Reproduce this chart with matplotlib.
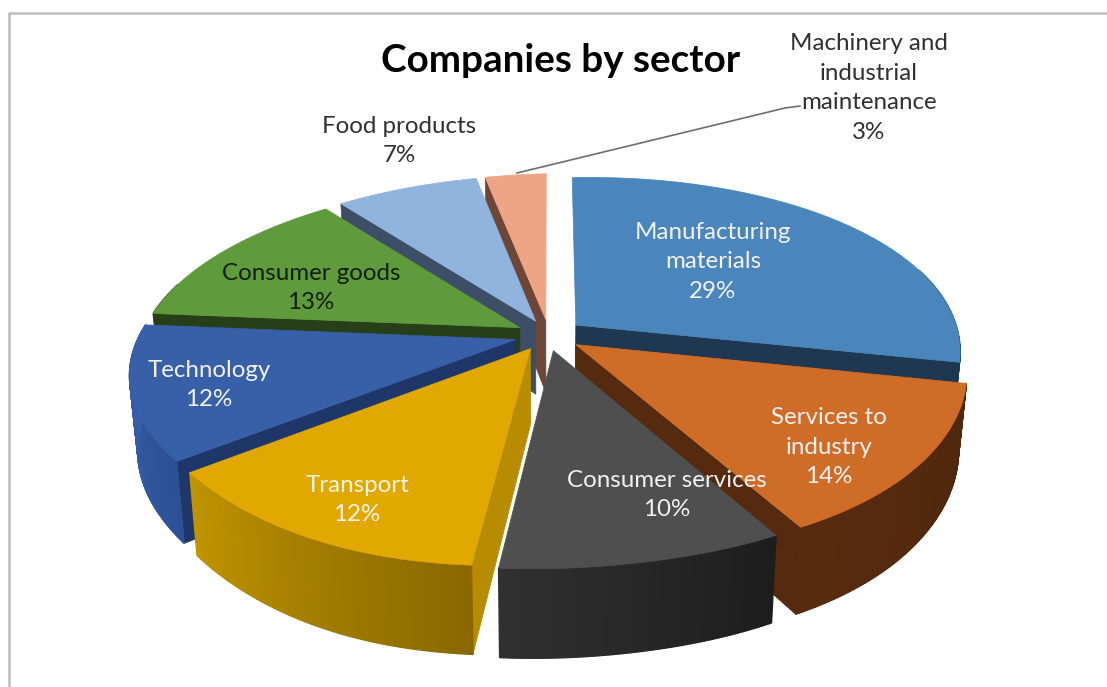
import numpy as np
import matplotlib
matplotlib.use("Agg")
import matplotlib.pyplot as plt
from matplotlib.collections import PolyCollection
from matplotlib.colors import to_rgb

# Share of companies per sector, clockwise from twelve o'clock
sectors = ["Manufacturing\nmaterials", "Services to\nindustry", "Consumer services",
           "Transport", "Technology", "Consumer goods", "Food products",
           "Machinery and\nindustrial\nmaintenance"]
shares = [29, 14, 10, 12, 12, 13, 7, 3]

top_colors = ["#4A85BC", "#CF6C27", "#4F4F4F", "#E0A800", "#3860A8", "#5F9A3C", "#90B4DE", "#EEA585"]
side_colors = ["#1D3850", "#552A0E", "#2A2A2A", "#B88C00", "#1E3768", "#273F18", "#3D4F66", "#6E4638"]
wall_from = ["#1D3850", "#4F270D", "#1D1D1D", "#8A6800", "#2C5094", "#273F18", "#3D4F66", "#6E4638"]
wall_to = ["#1D3850", "#582B0E", "#303030", "#C09400", "#3A63AC", "#273F18", "#3D4F66", "#6E4638"]
label_xy = [(713, 262), (829, 447), (667, 495), (357, 500), (209, 385), (311, 288), (399, 141), (869, 88)]
label_colors = ["#F2F2F2", "#F2F2F2", "#F2F2F2", "#F7F3E6", "#F2F2F2", "#10200A", "#303030", "#303030"]

# Projection of the tilted, exploded disc onto the page
CX, CY = 549, 335
RX, RY = 380, 173
NEAR = 0.155
DEPTH = 74
EXPLODE = 0.09
TILT = 0.018


def project(theta, r, mid, level=0.0):
    t = np.asarray(theta, dtype=float)
    r = np.asarray(r, dtype=float)
    # The front of the rendered pie leans slightly right and sags at lower left
    bulge_x = 30 / RX * np.exp(-((t - 172) / 45) ** 2)
    bulge_y = 9 / RY * np.exp(-((t - 205) / 28) ** 2)
    x = r * (np.sin(np.radians(t)) + bulge_x) + EXPLODE * np.sin(np.radians(mid))
    y = r * (np.cos(np.radians(t)) - bulge_y) + EXPLODE * np.cos(np.radians(mid))
    s = 1 / (1 + NEAR * y)
    shrink = 1 - 0.02 * level
    return np.column_stack((CX + RX * x * s * shrink,
                            CY - RY * y * s + DEPTH * level * s - TILT * RX * x))


fig = plt.figure(figsize=(11.07, 6.87), dpi=100)
ax = fig.add_axes([0, 0, 1, 1])
ax.set_xlim(0, 1107)
ax.set_ylim(687, 0)
ax.axis("off")

# Chart frame, open at the right and bottom of the page
ax.plot([8.5, 8.5, 1107], [687, 12.5, 12.5], color="#BDBDBD", lw=1.8, solid_capstyle="butt")

edges = np.concatenate(([0], np.cumsum(shares))) * 3.6
mids = (edges[:-1] + edges[1:]) / 2

# Painter's order: rear slices first
for i in np.argsort(-np.cos(np.radians(mids))):
    a0, a1, mid = edges[i], edges[i + 1], mids[i]
    arc = np.linspace(a0, a1, 90)

    # Radial faces turned towards the viewer
    for ang, visible in ((a0, np.cos(np.radians(a0 - 90)) < -1e-6),
                         (a1, np.cos(np.radians(a1 + 90)) < -1e-6)):
        if visible:
            face = np.vstack((project(ang, 0, mid), project(ang, 1, mid),
                              project(ang, 1, mid, 1), project(ang, 0, mid, 1)))
            ax.fill(face[:, 0], face[:, 1], color=side_colors[i], lw=0.5, zorder=2)

    # Outer wall, shaded along the arc
    top = project(arc, np.ones_like(arc), mid)
    bottom = project(arc, np.ones_like(arc), mid, 1)
    quads, shades = [], []
    c0, c1 = np.array(to_rgb(wall_from[i])), np.array(to_rgb(wall_to[i]))
    for k in range(len(arc) - 1):
        if np.cos(np.radians((arc[k] + arc[k + 1]) / 2)) < 0.3:
            quads.append([top[k], top[k + 1], bottom[k + 1], bottom[k]])
            shades.append(c0 + (c1 - c0) * k / (len(arc) - 2))
    if quads:
        ax.add_collection(PolyCollection(quads, facecolors=shades, edgecolors=shades, linewidths=1.0, zorder=2))

    # Top face
    outline = np.vstack((project(a0, 0, mid), top))
    ax.fill(outline[:, 0], outline[:, 1], color=top_colors[i], lw=0.5, zorder=2)

# Leader line for the smallest slice
ax.plot([517, 785, 800], [173, 108, 106], color="#6E6E6E", lw=1.2, zorder=3)

for name, share, (x, y), col in zip(sectors, shares, label_xy, label_colors):
    ax.text(x, y, f"{name}\n{share}%", color=col, ha="center", va="center",
            family="Lato", fontsize=17.4, linespacing=1.5, zorder=4)

ax.text(561, 61, "Companies by sector", ha="center", va="center", family="Lato",
        fontweight="bold", fontsize=27.8, color="black", zorder=4)

fig.savefig("out.png", dpi=100)
